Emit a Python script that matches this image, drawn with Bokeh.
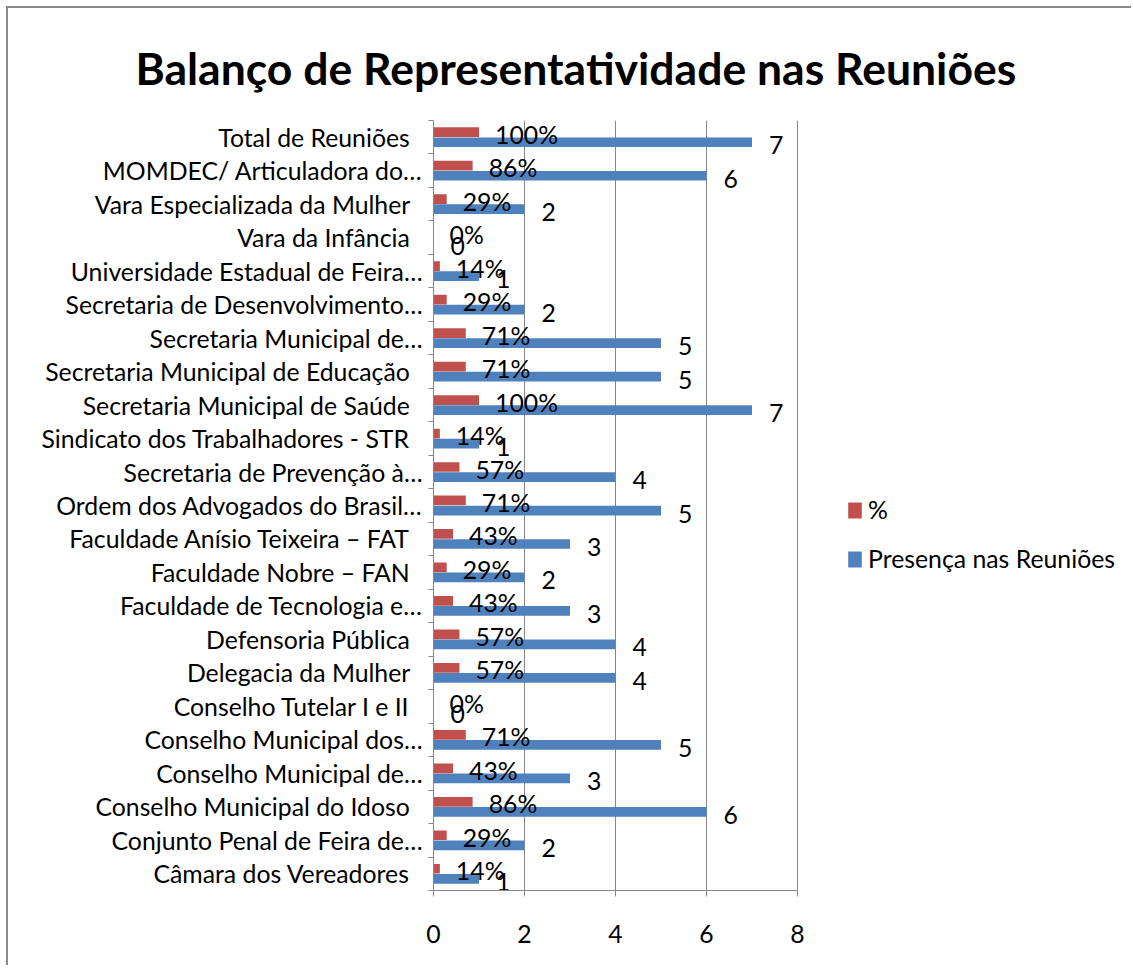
from bokeh.plotting import figure
from bokeh.models import (Range1d, FixedTicker, Legend, LegendItem,
                          ColumnDataSource)
from bokeh.embed import file_html
from bokeh.resources import INLINE
from bokeh.core.properties import value

# ---- data (bottom to top, as drawn) ----
categories = [
    "Câmara dos Vereadores",
    "Conjunto Penal de Feira de…",
    "Conselho Municipal do Idoso",
    "Conselho Municipal de…",
    "Conselho Municipal dos…",
    "Conselho Tutelar I e II",
    "Delegacia da Mulher",
    "Defensoria Pública",
    "Faculdade de Tecnologia e…",
    "Faculdade Nobre – FAN",
    "Faculdade Anísio Teixeira – FAT",
    "Ordem dos Advogados do Brasil…",
    "Secretaria de Prevenção à…",
    "Sindicato dos Trabalhadores - STR",
    "Secretaria Municipal de Saúde",
    "Secretaria Municipal de Educação",
    "Secretaria Municipal de…",
    "Secretaria de Desenvolvimento…",
    "Universidade Estadual de Feira…",
    "Vara da Infância",
    "Vara Especializada da Mulher",
    "MOMDEC/ Articuladora do…",
    "Total de Reuniões",
]
presenca = [1, 2, 6, 3, 5, 0, 4, 4, 3, 2, 3, 5, 4, 1, 7, 5, 5, 2, 1, 0, 2, 6, 7]
percent = [0.14, 0.29, 0.86, 0.43, 0.71, 0.00, 0.57, 0.57, 0.43, 0.29, 0.43,
           0.71, 0.57, 0.14, 1.00, 0.71, 0.71, 0.29, 0.14, 0.00, 0.29, 0.86, 1.00]
x_ticks = [0, 2, 4, 6, 8]

FONT = "Lato"
TXT = "#000000"
GRID = "#868686"
RED = "#C0504D"
BLUE = "#4F81BD"
FS = "24.8px"

n = len(categories)
centers = [i + 0.5 for i in range(n)]
src = ColumnDataSource(dict(
    y_red=[c + 0.15 for c in centers],
    y_blue=[c - 0.15 for c in centers],
    pres=presenca,
    pct=percent,
    pres_lbl=[str(v) for v in presenca],
    pct_lbl=[f"{round(v * 100)}%" for v in percent],
))

# layout (pixels)
W, H = 1125, 959
LEFT, TOP, BOTTOM = 425, 112, 77
AXIS_W = 364                      # pixels covered by the 0..8 value axis
frame_w = W - LEFT
x_end = x_ticks[-1] * frame_w / AXIS_W   # frame extends right to hold the legend

p = figure(width=W, height=H, x_range=Range1d(0, x_end), y_range=Range1d(0, n),
           output_backend="svg", toolbar_location=None,
           min_border_left=LEFT, min_border_right=0,
           min_border_top=TOP, min_border_bottom=BOTTOM)
p.styles = {"margin-left": "6px", "margin-top": "6px",
            "border-left": "2px solid #8a8a8a", "border-top": "2px solid #8a8a8a"}
p.outline_line_color = None
p.background_fill_color = "white"
p.border_fill_color = "white"

# title
p.title.text = "Balanço de Representatividade nas Reuniões"
p.title.align = "left"
p.title.offset = -298
p.title.vertical_align = "top"
p.title.standoff = 50
p.title.text_font = FONT
p.title.text_font_style = "bold"
p.title.text_font_size = "44.5px"
p.title.text_color = TXT

# grid
p.xgrid.ticker = FixedTicker(ticks=x_ticks)
p.xgrid.grid_line_color = GRID
p.ygrid.grid_line_color = None

# x axis
xa = p.xaxis[0]
xa.ticker = FixedTicker(ticks=x_ticks)
xa.bounds = (x_ticks[0], x_ticks[-1])
xa.axis_line_color = GRID
xa.major_tick_line_color = GRID
xa.major_tick_out = 6
xa.major_tick_in = 0
xa.minor_tick_line_color = None
xa.major_label_standoff = 28
xa.major_label_text_font = FONT
xa.major_label_text_font_size = FS
xa.major_label_text_color = TXT

# y axis: labels at centers, tick marks at category boundaries
ya = p.yaxis[0]
ya.ticker = FixedTicker(ticks=centers, minor_ticks=list(range(n + 1)))
ya.major_label_overrides = {
    c: (lab if lab.endswith("…") else lab + "\u00a0\u00a0")
    for c, lab in zip(centers, categories)
}
ya.axis_line_color = GRID
ya.major_tick_out = 0
ya.major_tick_in = 0
ya.minor_tick_out = 5
ya.minor_tick_in = 0
ya.minor_tick_line_color = GRID
ya.major_label_standoff = 6
ya.major_label_text_font = FONT
ya.major_label_text_font_size = FS
ya.major_label_text_color = TXT

# bars
r_blue = p.hbar(y="y_blue", left=0, right="pres", height=0.29, source=src,
                fill_color=BLUE, line_color=None)
r_red = p.hbar(y="y_red", left=0, right="pct", height=0.29, source=src,
               fill_color=RED, line_color=None)

# data labels
p.text(x="pct", y="y_red", text="pct_lbl", source=src, x_offset=16, y_offset=2,
       text_align="left", text_baseline="middle", text_font=value(FONT),
       text_font_size=FS, text_color=TXT)
p.text(x="pres", y="y_blue", text="pres_lbl", source=src, x_offset=17, y_offset=3,
       text_align="left", text_baseline="middle", text_font=value(FONT),
       text_font_size=FS, text_color=TXT)

# legend (right of the value axis)
legend = Legend(items=[LegendItem(label="%", renderers=[r_red]),
                       LegendItem(label="Presença nas Reuniões", renderers=[r_blue])],
                location=(413, 317), orientation="vertical",
                border_line_color=None, background_fill_alpha=0,
                padding=0, margin=0, glyph_width=17, glyph_height=20,
                label_height=28, spacing=20, label_standoff=5,
                label_text_font=FONT, label_text_font_size=FS,
                label_text_color=TXT)
p.add_layout(legend)

open("out.html", "w").write(file_html(p, INLINE))
